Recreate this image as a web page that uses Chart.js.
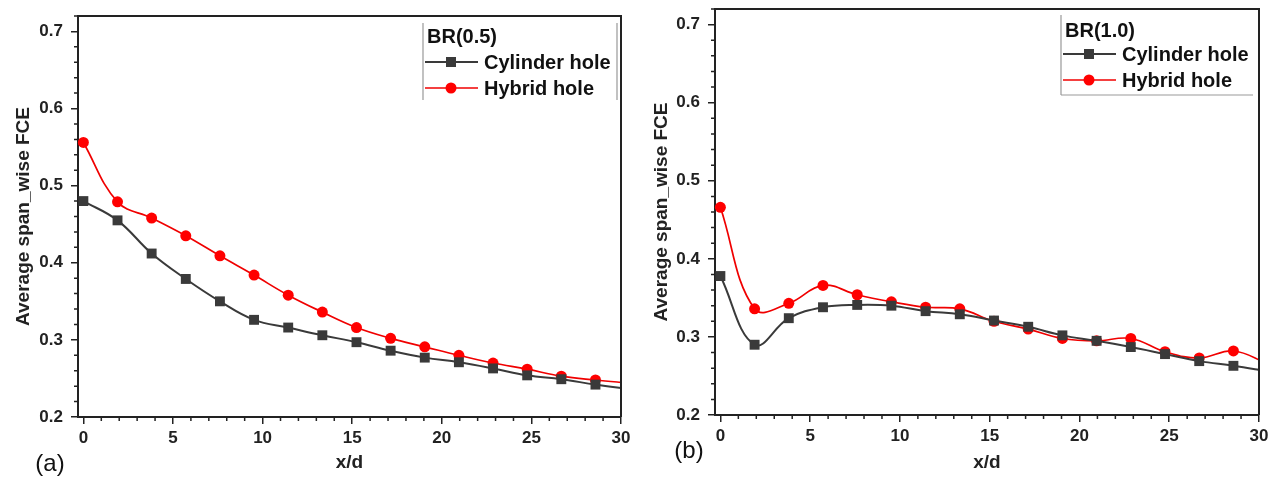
<!DOCTYPE html>
<html>
<head>
<meta charset="utf-8">
<script src="https://cdn.jsdelivr.net/npm/chart.js@4.4.1/dist/chart.umd.min.js"></script>
<style>
  body { margin: 0; background: #fff; width: 1277px; height: 480px; overflow: hidden; position: relative; }
  canvas { position: absolute; top: 0; }
  #chartA { left: 0; }
  #chartB { left: 640px; }
</style>
</head>
<body>
<canvas id="chartA" width="640" height="480"></canvas>
<canvas id="chartB" width="637" height="480"></canvas>
<script>
// x/d stations of the measured profiles
const xd = [0, 1.905, 3.81, 5.715, 7.62, 9.525, 11.43, 13.335, 15.24, 17.145, 19.05, 20.955, 22.86, 24.765, 26.67, 28.575, 30.48];

// BR(0.5)
const cylinderA = [0.480, 0.455, 0.412, 0.379, 0.350, 0.326, 0.316, 0.306, 0.297, 0.286, 0.277, 0.271, 0.263, 0.254, 0.249, 0.242, 0.236];
const hybridA   = [0.556, 0.479, 0.458, 0.435, 0.409, 0.384, 0.358, 0.336, 0.316, 0.302, 0.291, 0.280, 0.270, 0.262, 0.253, 0.248, 0.244];

// BR(1.0)
const cylinderB = [0.378, 0.290, 0.324, 0.338, 0.341, 0.340, 0.333, 0.329, 0.321, 0.313, 0.302, 0.295, 0.287, 0.278, 0.269, 0.263, 0.256];
const hybridB   = [0.466, 0.336, 0.343, 0.366, 0.354, 0.345, 0.338, 0.336, 0.320, 0.310, 0.298, 0.295, 0.298, 0.281, 0.273, 0.282, 0.266];

const seriesNames = ['Cylinder hole', 'Hybrid hole'];
const xTickValues = [0, 5, 10, 15, 20, 25, 30];
const yTickValues = [0.2, 0.3, 0.4, 0.5, 0.6, 0.7];

const ink = '#222';
const FONT = "'Liberation Sans', Arial, sans-serif";

function pts(ys) {
  return xd.map((x, i) => ({ x: x, y: ys[i] }));
}

// frame, minor ticks, legend and panel letter
const decorPlugin = {
  id: 'decor',
  afterDraw(chart, args, o) {
    const ctx = chart.ctx;
    const a = chart.chartArea;
    const xs = chart.scales.x, ys = chart.scales.y;
    ctx.save();
    ctx.strokeStyle = ink;
    ctx.lineWidth = 2;
    ctx.beginPath();
    ctx.moveTo(a.left - 1, a.top);
    ctx.lineTo(a.right, a.top);
    ctx.lineTo(a.right, a.bottom);
    ctx.stroke();

    // minor ticks
    ctx.lineWidth = 1.5;
    ctx.beginPath();
    for (let v = 1; v < 30; v++) {
      if (v % 5 === 0) continue;
      const px = xs.getPixelForValue(v);
      ctx.moveTo(px, a.bottom);
      ctx.lineTo(px, a.bottom + 4);
    }
    for (let k = 11; k <= 36; k++) {
      if (k % 5 === 0) continue;
      const py = ys.getPixelForValue(k * 0.02);
      ctx.moveTo(a.left, py);
      ctx.lineTo(a.left - 4, py);
    }
    ctx.stroke();

    // legend
    const L = o.legend;
    ctx.strokeStyle = '#999';
    ctx.lineWidth = 1.2;
    ctx.beginPath();
    ctx.moveTo(L.x, L.top);
    ctx.lineTo(L.x, L.bottom);
    if (L.frame === 'right') {
      ctx.moveTo(L.right, L.top);
      ctx.lineTo(L.right, L.bottom);
    } else {
      ctx.moveTo(L.x, L.bottom);
      ctx.lineTo(L.right, L.bottom);
    }
    ctx.stroke();

    ctx.fillStyle = '#111';
    ctx.font = 'bold 20px ' + FONT;
    ctx.textBaseline = 'middle';
    ctx.textAlign = 'left';
    ctx.fillText(o.title, L.x + 4, L.titleY);
    chart.data.datasets.forEach((ds, i) => {
      const y = L.rowY[i];
      ctx.strokeStyle = ds.borderColor;
      ctx.lineWidth = ds.borderWidth;
      ctx.beginPath();
      ctx.moveTo(L.x + 2, y);
      ctx.lineTo(L.x + 55, y);
      ctx.stroke();
      ctx.fillStyle = ds.pointBackgroundColor;
      ctx.beginPath();
      if (ds.pointStyle === 'rect') {
        ctx.rect(L.x + 28 - 5, y - 5, 10, 10);
      } else {
        ctx.arc(L.x + 28, y, 5.5, 0, Math.PI * 2);
      }
      ctx.fill();
      ctx.fillStyle = '#111';
      ctx.fillText(ds.label, L.x + 61, y + 1);
    });

    // panel letter
    ctx.font = '24px ' + FONT;
    ctx.textAlign = 'center';
    ctx.fillText(o.panel, o.panelX, o.panelY);
    ctx.restore();
  }
};

function makeChart(id, cyl, hyb, cfg) {
  return new Chart(document.getElementById(id), {
    type: 'line',
    data: {
      datasets: [
        {
          label: seriesNames[0],
          data: pts(cyl),
          borderColor: '#3a3a3a',
          backgroundColor: '#3a3a3a',
          pointBackgroundColor: '#3a3a3a',
          pointBorderColor: '#3a3a3a',
          borderWidth: 2,
          pointStyle: 'rect',
          pointRadius: 7,
          pointBorderWidth: 0,
          tension: 0.4,
          clip: { left: 10, top: 10, right: 0, bottom: 10 }
        },
        {
          label: seriesNames[1],
          data: pts(hyb),
          borderColor: '#f00000',
          backgroundColor: '#ff0000',
          pointBackgroundColor: '#ff0000',
          pointBorderColor: '#ff0000',
          borderWidth: 1.7,
          pointStyle: 'circle',
          pointRadius: 5.5,
          pointBorderWidth: 0,
          tension: 0.4,
          clip: { left: 10, top: 10, right: 0, bottom: 10 }
        }
      ]
    },
    options: {
      responsive: false,
      animation: false,
      events: [],
      layout: { padding: { left: 0, right: cfg.padRight, top: cfg.padTop, bottom: 0 } },
      scales: {
        x: {
          type: 'linear',
          min: -0.3,
          max: 30,
          afterBuildTicks: s => { s.ticks = xTickValues.map(v => ({ value: v })); },
          afterFit: s => { s.height = cfg.xHeight; s.paddingLeft = 0; s.paddingRight = 0; },
          ticks: { color: ink, font: { family: FONT, size: 17, weight: 'bold' }, padding: 4, maxRotation: 0 },
          grid: { drawOnChartArea: false, drawTicks: true, tickLength: 7, color: ink, lineWidth: 1.5 },
          border: { color: ink, width: 2 },
          title: { display: true, text: 'x/d', color: ink, font: { family: FONT, size: 19, weight: 'bold' }, padding: { top: 0, bottom: 6 } }
        },
        y: {
          type: 'linear',
          min: 0.2,
          max: 0.72,
          afterBuildTicks: s => { s.ticks = yTickValues.map(v => ({ value: v })); },
          afterFit: s => { s.width = cfg.yWidth; s.paddingTop = 0; s.paddingBottom = 0; },
          ticks: { color: ink, font: { family: FONT, size: 17, weight: 'bold' }, padding: 8 },
          grid: { drawOnChartArea: false, drawTicks: true, tickLength: 7, color: ink, lineWidth: 1.5 },
          border: { color: ink, width: 2 },
          title: { display: true, text: 'Average span_wise FCE', color: ink, font: { family: FONT, size: 19, weight: 'bold' }, padding: { top: cfg.yTitlePad, bottom: 0 } }
        }
      },
      plugins: {
        legend: { display: false },
        tooltip: { enabled: false },
        decor: cfg.decor
      }
    },
    plugins: [decorPlugin]
  });
}

makeChart('chartA', cylinderA, hybridA, {
  padRight: 19, padTop: 16, xHeight: 63, yWidth: 78, yTitlePad: 12,
  decor: {
    title: 'BR(0.5)', panel: '(a)', panelX: 50, panelY: 464,
    legend: { x: 423, right: 617, top: 23, bottom: 100, frame: 'right', titleY: 37, rowY: [62, 88] }
  }
});

makeChart('chartB', cylinderB, hybridB, {
  padRight: 18, padTop: 9, xHeight: 65, yWidth: 75, yTitlePad: 10,
  decor: {
    title: 'BR(1.0)', panel: '(b)', panelX: 49, panelY: 451,
    legend: { x: 421, right: 613, top: 15, bottom: 95, frame: 'bottom', titleY: 31, rowY: [54, 80] }
  }
});
</script>
</body>
</html>
